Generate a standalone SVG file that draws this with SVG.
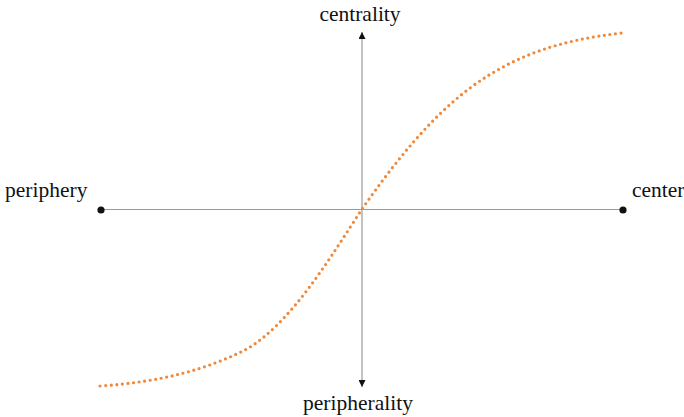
<svg xmlns="http://www.w3.org/2000/svg" width="684" height="417" viewBox="0 0 684 417">
<style>
.lbl{font-family:"Liberation Serif","Times New Roman",serif;font-size:21.5px;fill:#111}
.axis{stroke:#9a9a9a;stroke-width:1.2;fill:none}
.curve{stroke:#F0883A;stroke-width:3.2;stroke-linecap:round;stroke-dasharray:0 5.6;fill:none}
</style>
<defs>
<marker id="arr" viewBox="0 0 10 10" refX="10" refY="5" markerWidth="7" markerHeight="7" markerUnits="userSpaceOnUse" orient="auto">
<path d="M0,0 L10,5 L0,10 Z" fill="#111"/>
</marker>
</defs>
<g id="connectors">
<line class="axis" x1="101" y1="209.5" x2="623" y2="209.5"/>
<line class="axis" x1="362" y1="209.5" x2="362" y2="32" marker-end="url(#arr)"/>
<line class="axis" x1="362" y1="209.5" x2="362" y2="387" marker-end="url(#arr)"/>
<path class="curve" d="M100,386 C160,382 205,370 245,350 C290,325 330,258 362,209 C395,162 430,118 470,88 C515,55 560,40 622,33"/>
</g>
<g id="periphery">
<circle cx="101" cy="210" r="3.6" fill="#111"/>
<text class="lbl" x="5" y="197">periphery</text>
</g>
<g id="center">
<circle cx="623" cy="210" r="3.6" fill="#111"/>
<text class="lbl" x="632" y="197">center</text>
</g>
<g id="centrality">
<text class="lbl" x="360" y="21" text-anchor="middle">centrality</text>
</g>
<g id="peripherality">
<text class="lbl" x="358" y="410" text-anchor="middle">peripherality</text>
</g>
</svg>
